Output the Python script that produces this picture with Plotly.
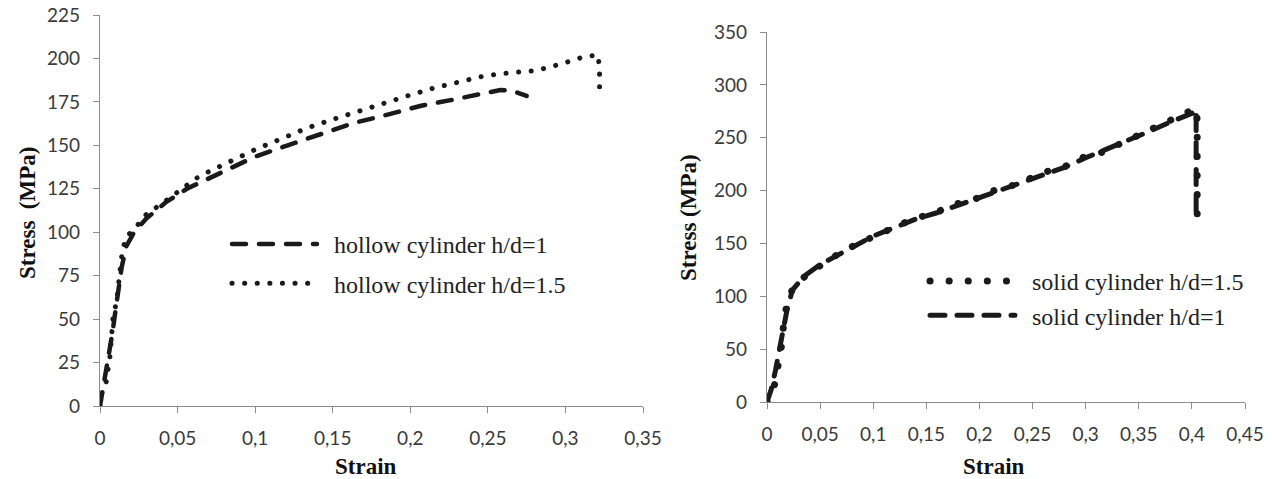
import plotly.graph_objects as go

# ---- Hollow cylinders (left panel) ----
hollow_h1_strain = [0, 0.002, 0.004, 0.006, 0.008, 0.010, 0.012, 0.014, 0.017, 0.022, 0.030,
                    0.043, 0.056, 0.080, 0.100, 0.121, 0.142, 0.163, 0.186, 0.207, 0.226,
                    0.237, 0.247, 0.258, 0.265, 0.275]
hollow_h1_stress = [0, 10, 20, 30, 42, 55, 68, 80, 92, 100, 108,
                    117.6, 125, 134.8, 143.5, 150, 156.5, 162.7, 167.8, 172.8, 176,
                    178, 180, 181.8, 181.6, 178.4]

hollow_h15_strain = [0, 0.001, 0.004, 0.0065, 0.0085, 0.0107, 0.0124, 0.0145, 0.017, 0.0235,
                     0.028, 0.036, 0.043, 0.049, 0.062, 0.070, 0.0855, 0.101, 0.117, 0.133,
                     0.149, 0.165, 0.181, 0.198, 0.214, 0.233, 0.248, 0.265, 0.281, 0.298,
                     0.312, 0.321, 0.322, 0.322, 0.322, 0.322]
hollow_h15_stress = [0, 7, 14, 29, 52, 60, 74, 90, 97.4, 103,
                     109, 113.7, 118.5, 122.4, 131, 134.8, 141.5, 148, 153.8, 159.8,
                     164.6, 169.3, 174.1, 178.4, 182.7, 187, 190, 191.8, 193, 197,
                     201, 202, 194, 186, 180, 177.5]

# ---- Solid cylinders (right panel) ----
solid_h15_strain = [0, 0.003, 0.0075, 0.0107, 0.0138, 0.0154, 0.0185, 0.0248, 0.039, 0.0546,
                    0.070, 0.0876, 0.106, 0.122, 0.139, 0.158, 0.174, 0.194, 0.210, 0.229,
                    0.246, 0.265, 0.281, 0.299, 0.315, 0.334, 0.353, 0.368, 0.386, 0.404,
                    0.405, 0.405, 0.405, 0.405, 0.405, 0.405]
solid_h15_stress = [0, 3.5, 17.7, 35, 54, 71, 91.8, 109, 121.7, 131.8,
                    142, 150.7, 159.6, 165.9, 173.8, 178.5, 186.4, 191, 199, 204,
                    211.6, 218.5, 223, 232, 236, 245, 253.5, 260, 268.4, 278,
                    266.5, 248, 231, 212, 193, 174]

solid_h1_strain = [0, 0.004, 0.008, 0.012, 0.015, 0.019, 0.024, 0.035, 0.050, 0.066,
                   0.084, 0.100, 0.120, 0.140, 0.160, 0.180, 0.200, 0.220, 0.240, 0.260,
                   0.280, 0.300, 0.320, 0.340, 0.360, 0.380, 0.400, 0.404, 0.404, 0.404]
solid_h1_stress = [0, 12, 30, 50, 68, 88, 106, 119, 130, 139,
                   149, 157, 165, 173, 179, 186, 193, 200, 207, 215,
                   222, 231, 239, 247, 256, 265, 273, 277, 230, 175]

# ---- Tick labels ----
left_x_ticks = [0, 0.05, 0.1, 0.15, 0.2, 0.25, 0.3, 0.35]
left_x_text = ["0", "0,05", "0,1", "0,15", "0,2", "0,25", "0,3", "0,35"]
left_y_ticks = [0, 25, 50, 75, 100, 125, 150, 175, 200, 225]
right_x_ticks = [0, 0.05, 0.1, 0.15, 0.2, 0.25, 0.3, 0.35, 0.4, 0.45]
right_x_text = ["0", "0,05", "0,1", "0,15", "0,2", "0,25", "0,3", "0,35", "0,4", "0,45"]
right_y_ticks = [0, 50, 100, 150, 200, 250, 300, 350]

W, H = 1272, 479
INK = "#1a1a1a"
TICK_FONT = dict(family="Lato, 'Open Sans', sans-serif", size=19, color="#3a3a3a")
SERIF = "'Liberation Serif', 'Times New Roman', serif"
LEGEND_FONT = dict(family=SERIF, size=24, color="#222222")
PAD = "\u00a0\u00a0"

fig = go.Figure()

fig.add_trace(go.Scatter(
    x=hollow_h1_strain, y=hollow_h1_stress, mode="lines",
    name=PAD + "hollow cylinder h/d=1", legend="legend", legendgroup="a",
    line=dict(color=INK, width=4.5, dash="14px,13px"),
    xaxis="x", yaxis="y"))
fig.add_trace(go.Scatter(
    x=hollow_h15_strain, y=hollow_h15_stress, mode="lines",
    name=PAD + "hollow cylinder h/d=1.5", legend="legend", legendgroup="b",
    line=dict(color=INK, width=5, dash="0.1px,12.5px"),
    xaxis="x", yaxis="y"))

fig.add_trace(go.Scatter(
    x=solid_h15_strain, y=solid_h15_stress, mode="lines",
    name=PAD + "solid cylinder h/d=1.5", legend="legend2", legendgroup="c",
    line=dict(color=INK, width=7, dash="0.1px,19px"),
    xaxis="x2", yaxis="y2"))
fig.add_trace(go.Scatter(
    x=solid_h1_strain, y=solid_h1_stress, mode="lines",
    name=PAD + "solid cylinder h/d=1", legend="legend2", legendgroup="d",
    line=dict(color=INK, width=5, dash="15px,12px"),
    xaxis="x2", yaxis="y2"))

axis_common = dict(
    showgrid=False, zeroline=False, showline=True, linecolor="#8c8c8c", linewidth=1.3,
    ticks="outside", ticklen=6, tickcolor="#8c8c8c", tickwidth=1.3,
    tickfont=TICK_FONT, automargin=False, fixedrange=True,
)

fig.update_layout(
    width=W, height=H,
    margin=dict(l=0, r=0, t=0, b=0),
    paper_bgcolor="white", plot_bgcolor="white",
    xaxis=dict(domain=[100 / W, 643 / W], range=[0, 0.35], tickvals=left_x_ticks,
               ticktext=left_x_text, anchor="y", ticklabelstandoff=9, **axis_common),
    yaxis=dict(domain=[1 - 406 / H, 1 - 15 / H], range=[0, 225], tickvals=left_y_ticks,
               anchor="x", ticklabelstandoff=9, **axis_common),
    xaxis2=dict(domain=[767 / W, 1245 / W], range=[0, 0.45], tickvals=right_x_ticks,
                ticktext=right_x_text, anchor="y2", ticklabelstandoff=9, **axis_common),
    yaxis2=dict(domain=[1 - 402 / H, 1 - 32 / H], range=[0, 350], tickvals=right_y_ticks,
                anchor="x2", ticklabelstandoff=9, **axis_common),
    legend=dict(x=227 / W, y=1 - 222 / H, xanchor="left", yanchor="top",
                itemwidth=85, tracegroupgap=5, bgcolor="rgba(0,0,0,0)", font=LEGEND_FONT),
    legend2=dict(x=925 / W, y=1 - 259 / H, xanchor="left", yanchor="top",
                 itemwidth=85, tracegroupgap=0, bgcolor="rgba(0,0,0,0)", font=LEGEND_FONT),
    showlegend=True,
)

title_font = dict(family=SERIF, size=23, color="#111111")
title_common = dict(xref="paper", yref="paper", showarrow=False, font=title_font,
                    xanchor="center", yanchor="middle")
fig.add_annotation(text="<b>Strain</b>", x=366 / W, y=1 - 466 / H, **title_common)
fig.add_annotation(text="<b>Strain</b>", x=994 / W, y=1 - 466 / H, **title_common)
fig.add_annotation(text="<b>Stress  (MPa)</b>", x=27 / W, y=1 - 213 / H, textangle=-90,
                   **title_common)
fig.add_annotation(text="<b>Stress (MPa)</b>", x=688 / W, y=1 - 218 / H, textangle=-90,
                   **title_common)

# Round line caps so that the dotted dash patterns render as dots
round_caps = (
    "var s=document.createElement('style');"
    "s.textContent='path.js-line{stroke-linecap:round;}';"
    "document.head.appendChild(s);"
)

fig.write_html("out.html", post_script=round_caps, config={"displayModeBar": False})
